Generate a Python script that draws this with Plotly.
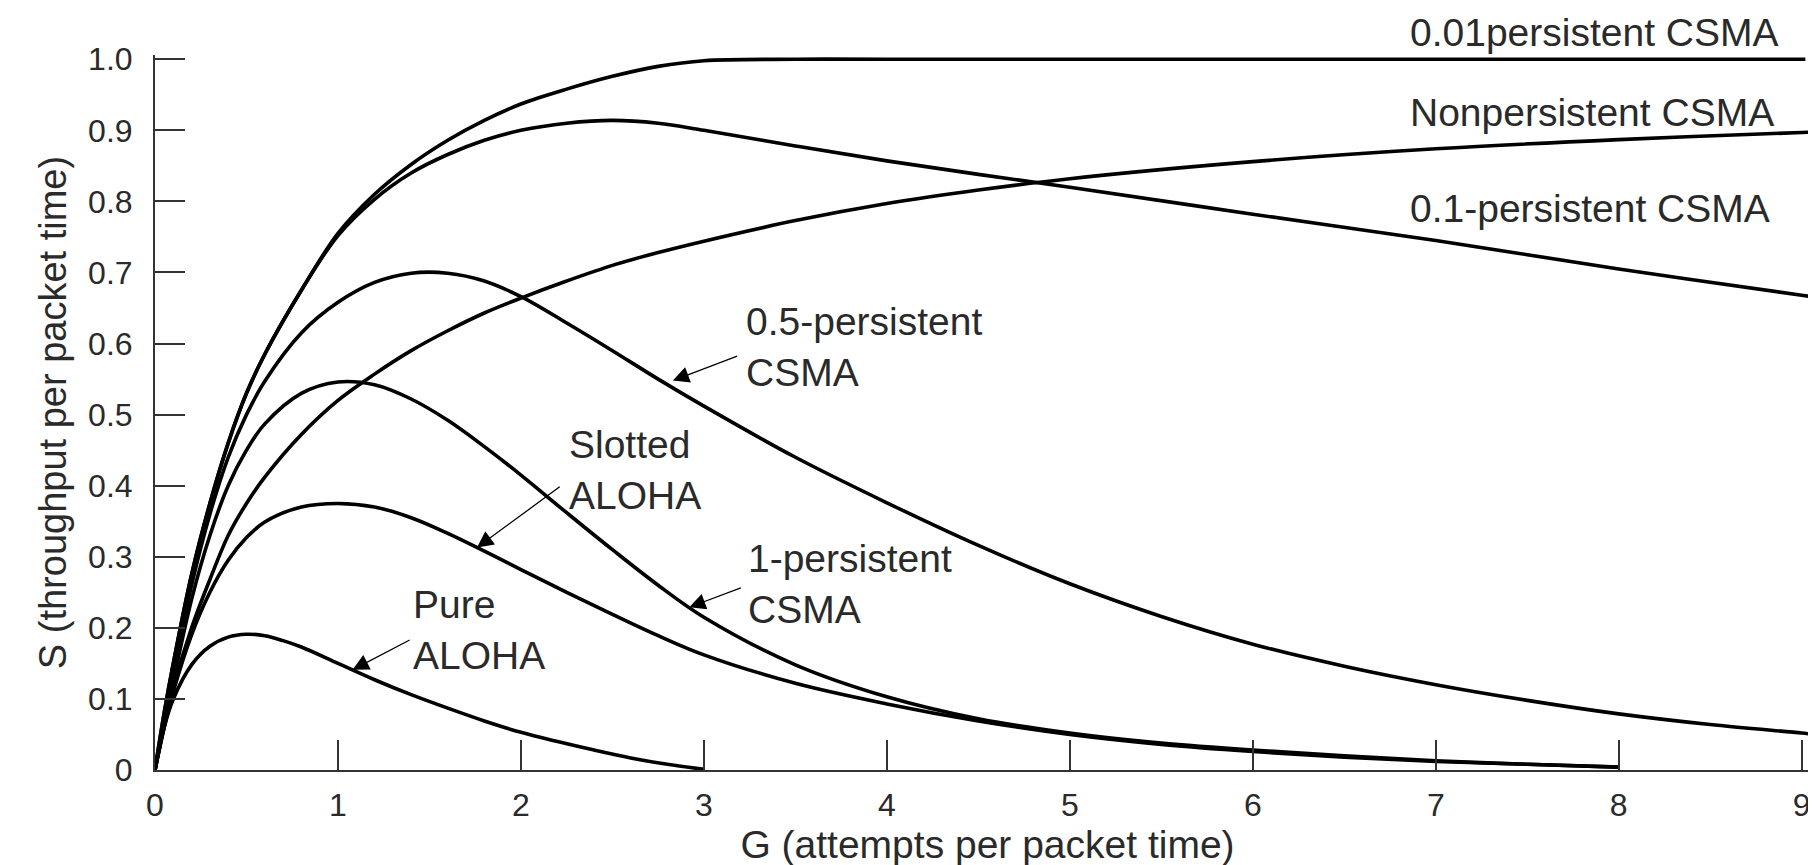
import plotly.graph_objects as go

# ---------------- data ----------------
g_pure = [0, 0.05, 0.1, 0.2, 0.3, 0.4, 0.5, 0.6, 0.7, 0.8, 1.0, 1.2, 1.4, 1.6, 1.8, 2.0, 2.2, 2.4, 2.6, 2.8, 3.0]
s_pure = [0, 0.06, 0.1, 0.148, 0.174, 0.187, 0.191, 0.189, 0.182, 0.173, 0.15, 0.127, 0.106, 0.087, 0.069, 0.053, 0.04, 0.028, 0.017, 0.008, 0.001]

g_slot = [0, 0.05, 0.1, 0.2, 0.3, 0.4, 0.5, 0.6, 0.8, 1.0, 1.2, 1.4, 1.6, 1.8, 2.0, 2.25, 2.5, 2.75, 3.0,
          3.5, 4.0, 4.5, 5.0, 5.5, 6.0, 6.5, 7.0, 7.5, 8.0]
s_slot = [0, 0.06, 0.11, 0.19, 0.25, 0.295, 0.327, 0.349, 0.37, 0.375, 0.37, 0.355, 0.333, 0.308, 0.282, 0.25, 0.219, 0.189, 0.162,
          0.122, 0.093, 0.069, 0.05, 0.036, 0.026, 0.018, 0.012, 0.008, 0.004]

g_p1 = [0, 0.05, 0.1, 0.2, 0.3, 0.4, 0.5, 0.6, 0.8, 1.0, 1.2, 1.4, 1.6, 1.8, 2.0, 2.25, 2.5, 2.75, 3.0,
        3.5, 4.0, 4.5, 5.0, 5.5, 6.0, 6.5, 7.0, 7.5, 8.0]
s_p1 = [0, 0.065, 0.125, 0.24, 0.33, 0.4, 0.45, 0.487, 0.53, 0.546, 0.542, 0.522, 0.492, 0.455, 0.415, 0.362, 0.31, 0.26, 0.215,
        0.148, 0.103, 0.072, 0.052, 0.038, 0.028, 0.02, 0.013, 0.008, 0.004]

g_p05 = [0, 0.05, 0.1, 0.2, 0.3, 0.4, 0.5, 0.6, 0.8, 1.0, 1.2, 1.4, 1.6, 1.8, 2.0, 2.25, 2.5, 2.75, 3.0,
         3.5, 4.0, 4.5, 5.0, 5.5, 6.0, 6.5, 7.0, 7.5, 8.0, 8.5, 9.0, 9.07]
s_p05 = [0, 0.07, 0.135, 0.26, 0.36, 0.44, 0.5, 0.547, 0.615, 0.658, 0.686, 0.699, 0.699, 0.688, 0.666, 0.629, 0.59, 0.55, 0.512,
         0.44, 0.376, 0.316, 0.262, 0.216, 0.177, 0.146, 0.12, 0.098, 0.079, 0.064, 0.052, 0.05]

g_p01 = [0, 0.05, 0.1, 0.2, 0.3, 0.4, 0.5, 0.6, 0.8, 1.0, 1.2, 1.4, 1.6, 1.8, 2.0, 2.25, 2.5, 2.75, 3.0,
         3.5, 4.0, 4.5, 5.0, 6.0, 7.0, 8.0, 9.0, 9.08]
s_p01 = [0, 0.08, 0.15, 0.275, 0.375, 0.46, 0.53, 0.585, 0.675, 0.752, 0.803, 0.84, 0.866, 0.886, 0.9, 0.91, 0.914, 0.91, 0.9,
         0.878, 0.857, 0.838, 0.82, 0.782, 0.745, 0.705, 0.668, 0.665]

g_p001 = [0, 0.05, 0.1, 0.2, 0.3, 0.4, 0.5, 0.6, 0.8, 1.0, 1.2, 1.4, 1.6, 1.8, 2.0, 2.25, 2.5, 2.75, 3.0,
          3.5, 4.0, 5.0, 6.0, 7.0, 8.0, 9.02]
s_p001 = [0, 0.08, 0.15, 0.275, 0.375, 0.46, 0.53, 0.585, 0.675, 0.755, 0.81, 0.852, 0.886, 0.914, 0.937, 0.958, 0.976, 0.99, 0.998,
          1.0, 1.0, 1.0, 1.0, 1.0, 1.0, 1.0]

g_np = [0, 0.05, 0.1, 0.2, 0.3, 0.4, 0.5, 0.6, 0.8, 1.0, 1.2, 1.4, 1.6, 1.8, 2.0, 2.25, 2.5, 2.75, 3.0,
        3.5, 4.0, 4.5, 5.0, 6.0, 7.0, 8.0, 9.0, 9.1]
s_np = [0, 0.06, 0.115, 0.2, 0.268, 0.33, 0.375, 0.412, 0.472, 0.52, 0.557, 0.59, 0.618, 0.643, 0.664, 0.688, 0.71, 0.728, 0.744,
        0.773, 0.797, 0.816, 0.832, 0.856, 0.874, 0.887, 0.897, 0.898]

x_ticks = [0, 1, 2, 3, 4, 5, 6, 7, 8, 9]
x_tick_text = ["0", "1", "2", "3", "4", "5", "6", "7", "8", "9"]
y_ticks = [0, 0.1, 0.2, 0.3, 0.4, 0.5, 0.6, 0.7, 0.8, 0.9, 1.0]
y_tick_text = ["0", "0.1", "0.2", "0.3", "0.4", "0.5", "0.6", "0.7", "0.8", "0.9", "1.0"]

Y_TOP = 1.006  # top of the y range

# text labels: (text, x, y)
side_labels = [
    ("0.01persistent CSMA", 6.85, 1.037),
    ("Nonpersistent CSMA", 6.85, 0.925),
    ("0.1-persistent CSMA", 6.85, 0.79),
]
block_labels = [
    ("0.5-persistent<br>CSMA", 3.22, 0.595),
    ("1-persistent<br>CSMA", 3.23, 0.262),
    ("Slotted<br>ALOHA", 2.25, 0.422),
    ("Pure<br>ALOHA", 1.40, 0.197),
]
# arrows: (tip_x, tip_y, tail_x, tail_y)
arrows = [
    (2.83, 0.548, 3.19, 0.583),
    (2.92, 0.229, 3.21, 0.257),
    (1.76, 0.313, 2.22, 0.40),
    (1.08, 0.141, 1.40, 0.184),
]

FONT = "Liberation Sans, Arial, Helvetica, sans-serif"
TXT = "#2a2a2a"
LW = 3.6
LABEL_SIZE = 39

fig = go.Figure()
for gx, sy in [(g_pure, s_pure), (g_slot, s_slot), (g_p1, s_p1), (g_p05, s_p05),
               (g_p01, s_p01), (g_p001, s_p001), (g_np, s_np)]:
    fig.add_trace(go.Scatter(x=gx, y=sy, mode="lines",
                             line=dict(color="black", width=LW, shape="spline", smoothing=1.0),
                             hoverinfo="skip", showlegend=False))

annotations = []
for t, x, y in side_labels:
    if y > Y_TOP:
        annotations.append(dict(text=t, x=x, y=y / Y_TOP, xref="x", yref="paper", showarrow=False,
                                xanchor="left", yanchor="middle",
                                font=dict(family=FONT, size=LABEL_SIZE, color=TXT)))
    else:
        annotations.append(dict(text=t, x=x, y=y, xref="x", yref="y", showarrow=False,
                                xanchor="left", yanchor="middle",
                                font=dict(family=FONT, size=LABEL_SIZE, color=TXT)))
for t, x, y in block_labels:
    annotations.append(dict(text=t, x=x, y=y, xref="x", yref="y", showarrow=False,
                            xanchor="left", yanchor="middle", align="left",
                            font=dict(family=FONT, size=LABEL_SIZE, color=TXT)))
for tx, ty, ax, ay in arrows:
    annotations.append(dict(text="", x=tx, y=ty, ax=ax, ay=ay, xref="x", yref="y",
                            axref="x", ayref="y", showarrow=True, arrowhead=2,
                            arrowsize=2.5, arrowwidth=1.3, arrowcolor="black"))

fig.update_layout(
    width=1816, height=865,
    margin=dict(l=147, r=4, t=47, b=103),
    paper_bgcolor="white", plot_bgcolor="white",
    font=dict(family=FONT, size=32, color=TXT),
    annotations=annotations,
    xaxis=dict(range=[0, 9.1], tickvals=x_ticks, ticktext=x_tick_text,
               showline=True, linecolor="#333", linewidth=2,
               ticks="inside", ticklen=30, tickwidth=2, tickcolor="#333",
               showgrid=False, zeroline=False, ticklabelstandoff=6,
               title=dict(text="G (attempts per packet time)", standoff=0,
                          font=dict(family=FONT, size=39, color=TXT)),
               tickfont=dict(family=FONT, size=32, color=TXT)),
    yaxis=dict(range=[0, Y_TOP], tickvals=y_ticks, ticktext=y_tick_text,
               showline=True, linecolor="#333", linewidth=2,
               ticks="inside", ticklen=30, tickwidth=2, tickcolor="#333",
               showgrid=False, zeroline=False, ticklabelstandoff=14,
               title=dict(text="S (throughput per packet time)", standoff=10,
                          font=dict(family=FONT, size=38, color=TXT)),
               tickfont=dict(family=FONT, size=32, color=TXT)),
)

fig.write_html("out.html")
